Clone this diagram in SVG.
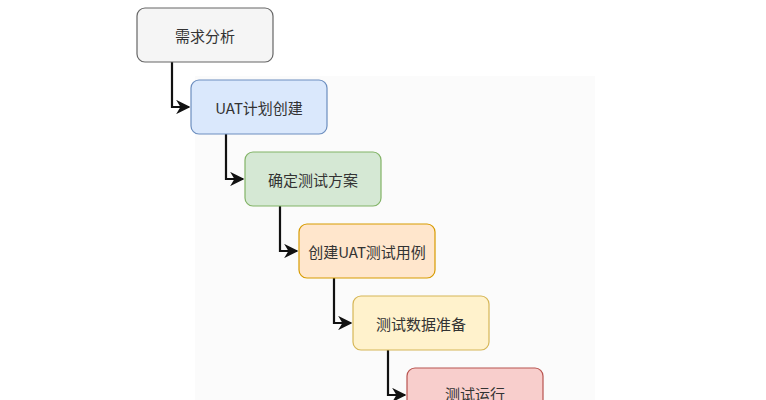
<svg xmlns="http://www.w3.org/2000/svg" width="766" height="400" viewBox="0 0 766 400">
<defs>
<style>
.n rect{stroke-width:1.2}
.n text{font-family:"Noto Sans CJK SC","Liberation Sans",sans-serif;font-size:15px;fill:#333;text-anchor:middle;dominant-baseline:central}
.c path{fill:none;stroke:#111;stroke-width:2.2}
</style>
<marker id="a" viewBox="0 0 10 10" refX="9" refY="5" markerWidth="6.5" markerHeight="6.5" orient="auto" markerUnits="strokeWidth"><path d="M0,0 L10,5 L0,10 L3,5 Z" fill="#111"/></marker>
</defs>
<rect width="766" height="400" fill="#fff"/>
<rect x="195" y="76" width="400" height="324" fill="#fbfbfb"/>
<g class="c">
<path d="M172,62 V107 H189" marker-end="url(#a)"/>
<path d="M226,134 V179 H243" marker-end="url(#a)"/>
<path d="M280,206 V251 H297" marker-end="url(#a)"/>
<path d="M334,278 V323 H351" marker-end="url(#a)"/>
<path d="M388,350 V395 H405" marker-end="url(#a)"/>
</g>
<g id="n1" class="n"><rect x="137" y="8" width="136" height="54" rx="8" fill="#f5f5f5" stroke="#666"/><text x="205" y="35">需求分析</text></g>
<g id="n2" class="n"><rect x="191" y="80" width="136" height="54" rx="8" fill="#dae8fc" stroke="#6c8ebf"/><text x="259" y="107">UAT计划创建</text></g>
<g id="n3" class="n"><rect x="245" y="152" width="136" height="54" rx="8" fill="#d5e8d4" stroke="#82b366"/><text x="313" y="179">确定测试方案</text></g>
<g id="n4" class="n"><rect x="299" y="224" width="136" height="54" rx="8" fill="#ffe6cc" stroke="#d79b00"/><text x="367" y="251">创建UAT测试用例</text></g>
<g id="n5" class="n"><rect x="353" y="296" width="136" height="54" rx="8" fill="#fff2cc" stroke="#d6b656"/><text x="421" y="323">测试数据准备</text></g>
<g id="n6" class="n"><rect x="407" y="368" width="136" height="54" rx="8" fill="#f8cecc" stroke="#b85450"/><text x="475" y="393">测试运行</text></g>
</svg>
